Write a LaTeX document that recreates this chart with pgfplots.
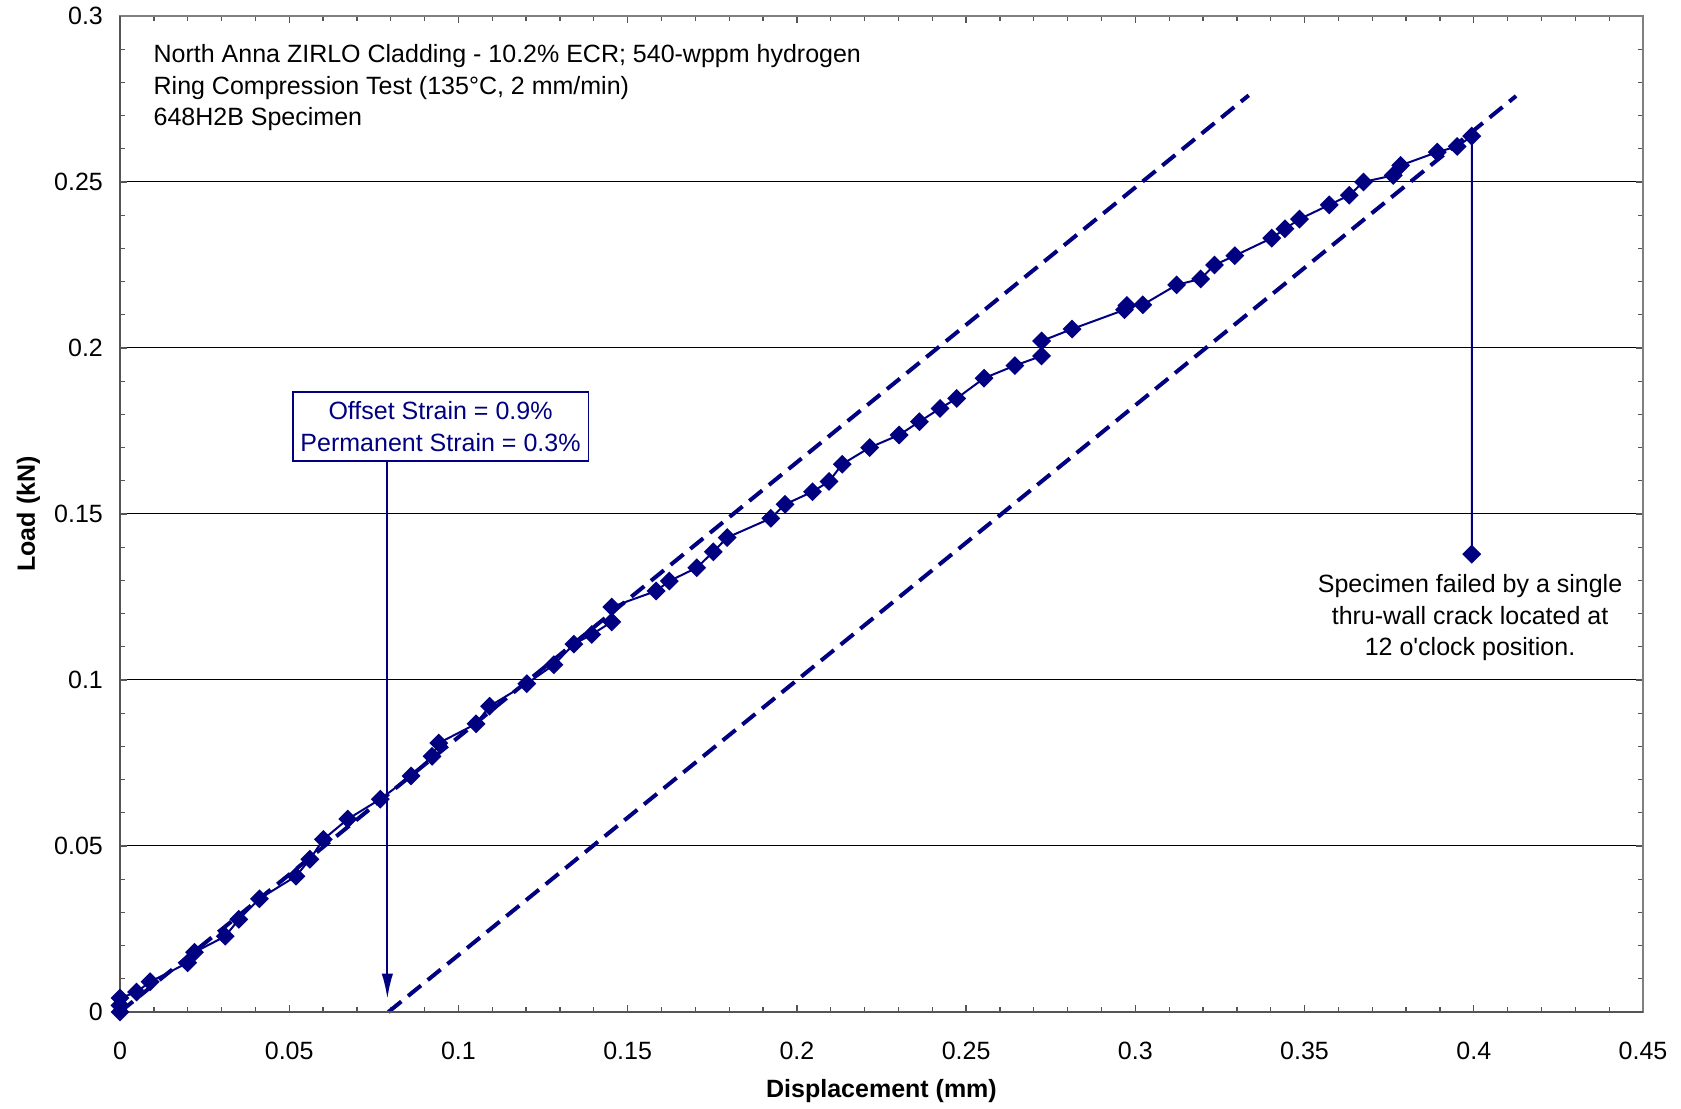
\documentclass[border=0pt]{standalone}
\usepackage{fontspec}
\setmainfont{Liberation Sans}
\usepackage{pgfplots}
\pgfplotsset{compat=1.18}
\usetikzlibrary{arrows.meta}
\definecolor{navy}{RGB}{0,0,128}
\definecolor{framegray}{RGB}{128,128,128}
\definecolor{axisgray}{RGB}{85,85,85}
\newcommand{\chartfont}{\fontsize{7.5}{9.5}\selectfont}

\begin{document}
\begin{tikzpicture}
\begin{axis}[
  scale only axis, width=456.9pt, height=298.8pt,
  xmin=0, xmax=0.45, ymin=0, ymax=0.3,
  xtick={0,0.05,0.1,0.15,0.2,0.25,0.3,0.35,0.4,0.45},
  xticklabels={0,0.05,0.1,0.15,0.2,0.25,0.3,0.35,0.4,0.45},
  ytick={0,0.05,0.1,0.15,0.2,0.25,0.3},
  yticklabels={0,0.05,0.1,0.15,0.2,0.25,0.3},
  scaled ticks=false,
  minor x tick num=4, minor y tick num=4,
  tick align=inside,
  major tick length=2.1pt, minor tick length=1.6pt,
  tick style={axisgray, line width=0.4pt},
  ymajorgrids, major grid style={black, line width=0.3pt},
  axis line style={framegray, line width=0.6pt},
  clip=false,
  tick label style={font=\chartfont},
  xticklabel style={yshift=-5.6pt},
  yticklabel style={xshift=-1.6pt},
  xlabel={Displacement (mm)}, ylabel={Load (kN)},
  label style={font=\chartfont\bfseries},
  xlabel style={at={(axis description cs:0.5,-0.0793)}, anchor=center},
  ylabel style={at={(axis description cs:-0.0602,0.5)}, anchor=center},
]
% 0.9% offset construction lines (elastic slope)
\addplot[navy, line width=1.2pt, dash pattern=on 5pt off 2.6pt] coordinates {(0,0) (0.3335,0.2761)};
\addplot[navy, line width=1.2pt, dash pattern=on 5pt off 2.6pt] coordinates {(0.0793,0) (0.4125,0.2759)};

% measured load-displacement record
\addplot[navy, line width=0.6pt, mark=square*, mark size=1.7pt,
  mark options={rotate=45, solid, fill=navy, draw=navy}] coordinates {
(0,0) (0,0.002) (0,0.0042)
(0.0049,0.0060) (0.0089,0.0091) (0.0200,0.0148) (0.0220,0.0180)
(0.0311,0.0228) (0.0351,0.0279) (0.0412,0.0341) (0.0520,0.0409)
(0.0561,0.0460) (0.0601,0.0520) (0.0673,0.0581) (0.0769,0.0641)
(0.0860,0.0711) (0.0922,0.0770) (0.0942,0.0810) (0.1052,0.0868)
(0.1092,0.0921) (0.1202,0.0989) (0.1282,0.1046) (0.1341,0.1108)
(0.1394,0.1137) (0.1453,0.1175) (0.1453,0.1220) (0.1584,0.1268)
(0.1623,0.1298) (0.1704,0.1338) (0.1753,0.1386) (0.1794,0.1429)
(0.1923,0.1487) (0.1965,0.1529) (0.2046,0.1567) (0.2095,0.1598)
(0.2134,0.1650) (0.2215,0.1700) (0.2302,0.1738) (0.2362,0.1778)
(0.2423,0.1818) (0.2472,0.1848) (0.2553,0.1909) (0.2644,0.1947)
(0.2723,0.1976) (0.2723,0.2021) (0.2813,0.2057) (0.2968,0.2115)
(0.2975,0.2128) (0.3022,0.2130) (0.3122,0.2190) (0.3193,0.2208)
(0.3234,0.2250) (0.3294,0.2278) (0.3403,0.2331) (0.3442,0.2359)
(0.3485,0.2388) (0.3573,0.2431) (0.3632,0.2460) (0.3674,0.2500)
(0.3762,0.2520) (0.3784,0.2550) (0.3892,0.2590) (0.3951,0.2607)
(0.3994,0.2638) (0.3994,0.1379)
};

% darker left and bottom axis lines
\draw[axisgray, line width=0.6pt] (rel axis cs:0,1) -- (rel axis cs:0,0) -- (rel axis cs:1,0);

% test description
\node[anchor=base west, inner sep=0pt, font=\chartfont] at (axis cs:0.00975,0.2859) {North Anna ZIRLO Cladding - 10.2\% ECR; 540-wppm hydrogen};
\node[anchor=base west, inner sep=0pt, font=\chartfont] at (axis cs:0.00975,0.2763) {Ring Compression Test (135°C, 2 mm/min)};
\node[anchor=base west, inner sep=0pt, font=\chartfont] at (axis cs:0.00975,0.2669) {648H2B Specimen};

% offset strain callout
\node[draw=navy, text=navy, line width=0.5pt, align=center,
  font=\fontsize{7.5}{9.4}\selectfont, minimum width=88.7pt, minimum height=20.6pt, inner sep=0pt]
  at (axis cs:0.0947,0.1763) {Offset Strain = 0.9\%\\Permanent Strain = 0.3\%};
\draw[navy, line width=0.6pt, -{Latex[length=7.5pt,width=3.4pt]}]
  (axis cs:0.0790,0.1658) -- (axis cs:0.0790,0.0040);

% failure note
\node[align=center, font=\chartfont] at (axis cs:0.3989,0.1188)
  {Specimen failed by a single\\thru-wall crack located at\\12 o\textquotesingle clock position.};

\coordinate (ll) at (rel axis cs:0,0);
\coordinate (ur) at (rel axis cs:1,1);
\end{axis}
\pgfresetboundingbox
\path ([shift={(-36pt,-29.1pt)}]ll) rectangle ([shift={(11.4pt,4.8pt)}]ur);
\end{tikzpicture}
\end{document}
